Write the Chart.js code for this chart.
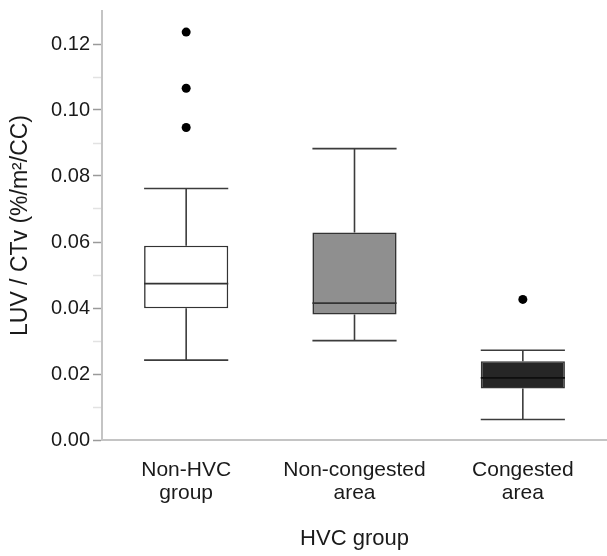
<!DOCTYPE html>
<html>
<head>
<meta charset="utf-8">
<script src="https://cdn.jsdelivr.net/npm/chart.js@4"></script>
<style>
  body { margin: 0; background: #fff; }
</style>
</head>
<body>
<canvas id="miGrafico" width="607" height="556"></canvas>
<script>
// Categorías (grupos) del eje X
const categorias = [['Non-HVC', 'group'], ['Non-congested', 'area'], ['Congested', 'area']];

// Valores de cada caja (LUV / CTv)
const bigoteInferior = [0.0242, 0.0301, 0.0062];
const cuartil1 = [0.0399, 0.0380, 0.0156];
const mediana = [0.0474, 0.0415, 0.0188];
const cuartil3 = [0.0589, 0.0629, 0.0239];
const bigoteSuperior = [0.0762, 0.0883, 0.0272];

// Valores atípicos por grupo
const atipicos = [[0.1236, 0.1066, 0.0947], [], [0.0426]];

// Colores de relleno de las cajas
const colores = ['#ffffff', '#8f8f8f', '#262626'];

const fuente = '"Liberation Sans", Arial, Helvetica, sans-serif';

// Un dataset de puntos por cada "fila" de atípicos (null si el grupo no tiene)
const maxAtipicos = Math.max(...atipicos.map(a => a.length));
let datasetsAtipicos = [];
for (let k = 0; k < maxAtipicos; k++) {
    datasetsAtipicos.push({
        type: 'line',
        data: atipicos.map(a => (k < a.length ? a[k] : null)),
        showLine: false,
        pointRadius: 4.5,
        pointBackgroundColor: '#000',
        pointBorderWidth: 0
    });
}

// Plugin para bigotes y medianas
const cajaPlugin = {
    id: 'cajas',
    beforeDatasetsDraw(chart) {
        const c = chart.ctx, y = chart.scales.y;
        const barras = chart.getDatasetMeta(0).data;
        c.save();
        c.strokeStyle = '#3c3c3c';
        c.lineWidth = 1.6;
        barras.forEach((b, i) => {
            const x = b.x, m = b.width / 2;
            c.beginPath();
            c.moveTo(x, y.getPixelForValue(bigoteSuperior[i]));
            c.lineTo(x, y.getPixelForValue(cuartil3[i]));
            c.moveTo(x, y.getPixelForValue(cuartil1[i]));
            c.lineTo(x, y.getPixelForValue(bigoteInferior[i]));
            c.moveTo(x - m, y.getPixelForValue(bigoteSuperior[i]));
            c.lineTo(x + m, y.getPixelForValue(bigoteSuperior[i]));
            c.moveTo(x - m, y.getPixelForValue(bigoteInferior[i]));
            c.lineTo(x + m, y.getPixelForValue(bigoteInferior[i]));
            c.stroke();
        });
        c.restore();
    },
    afterDatasetDraw(chart, args) {
        if (args.index !== 0) return;
        const c = chart.ctx, y = chart.scales.y;
        c.save();
        c.lineWidth = 1.8;
        chart.getDatasetMeta(0).data.forEach((b, i) => {
            const m = b.width / 2, py = y.getPixelForValue(mediana[i]);
            c.strokeStyle = i === 2 ? '#0e0e0e' : '#333333';
            c.beginPath();
            c.moveTo(b.x - m, py);
            c.lineTo(b.x + m, py);
            c.stroke();
        });
        c.restore();
    }
};

let ctx = document.getElementById('miGrafico').getContext('2d');

new Chart(ctx, {
    data: {
        labels: categorias,
        datasets: [{
            type: 'bar',
            data: cuartil1.map((q, i) => [q, cuartil3[i]]),
            backgroundColor: colores,
            borderColor: '#333333',
            borderWidth: 1.6,
            borderSkipped: false,
            barPercentage: 0.5,
            categoryPercentage: 1
        }, ...datasetsAtipicos]
    },
    options: {
        responsive: false,
        animation: false,
        layout: { autoPadding: false, padding: { top: 10, right: 0, bottom: 0, left: 0 } },
        plugins: { legend: { display: false }, tooltip: { enabled: false } },
        scales: {
            x: {
                type: 'category',
                offset: true,
                grid: { display: false, drawTicks: false },
                border: { color: '#c4c4c4', width: 2 },
                ticks: { color: '#1a1a1a', padding: 18, font: { family: fuente, size: 21, lineHeight: 1.12 } },
                title: {
                    display: true, text: 'HVC group', color: '#1a1a1a',
                    font: { family: fuente, size: 22 }, padding: { top: 10, bottom: 4 }
                },
                afterFit: s => { s.height = 116; }
            },
            y: {
                min: 0,
                max: 0.13,
                ticks: {
                    stepSize: 0.01,
                    autoSkip: false,
                    color: '#1a1a1a',
                    padding: 3,
                    font: { family: fuente, size: 20, lineHeight: 0.8 },
                    callback: v => (Math.round(v * 100) % 2 === 0 && v < 0.125) ? v.toFixed(2) : ''
                },
                grid: {
                    drawOnChartArea: false,
                    tickLength: 9,
                    tickWidth: 1.5,
                    tickColor: c => {
                        const k = Math.round(c.tick.value * 100);
                        if (k === 13) return 'rgba(0,0,0,0)';
                        return k % 2 === 0 ? '#9a9a9a' : '#e2e2e2';
                    }
                },
                border: { color: '#c4c4c4', width: 2 },
                title: {
                    display: true, text: 'LUV / CTv (%/m²/CC)', color: '#1a1a1a',
                    font: { family: fuente, size: 23 }, padding: { top: 7, bottom: 0 }
                },
                afterFit: s => { s.width = 102; }
            }
        }
    },
    plugins: [cajaPlugin]
});
</script>
</body>
</html>
